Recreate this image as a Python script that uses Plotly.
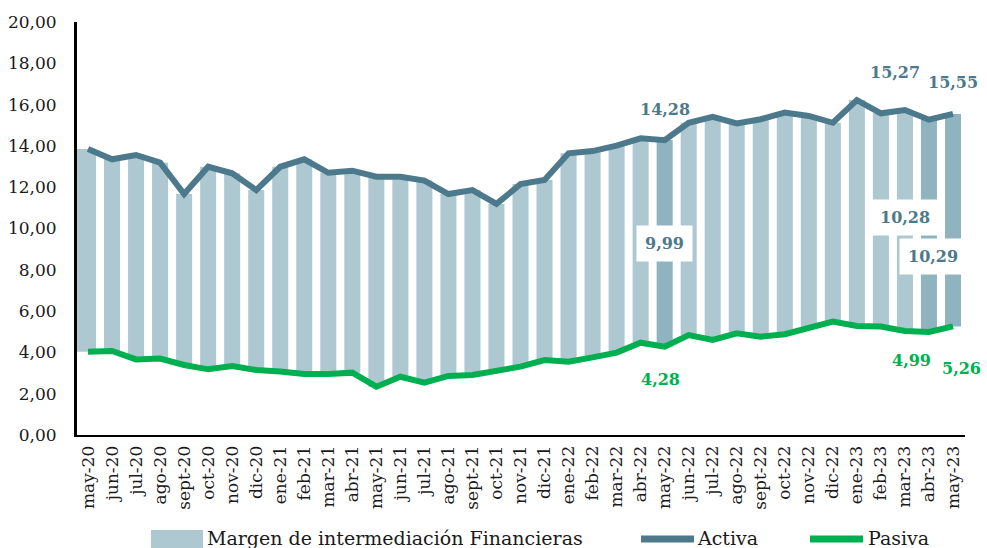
import plotly.graph_objects as go

categorias = ["may-20", "jun-20", "jul-20", "ago-20", "sept-20", "oct-20", "nov-20", "dic-20",
              "ene-21", "feb-21", "mar-21", "abr-21", "may-21", "jun-21", "jul-21", "ago-21",
              "sept-21", "oct-21", "nov-21", "dic-21", "ene-22", "feb-22", "mar-22", "abr-22",
              "may-22", "jun-22", "jul-22", "ago-22", "sept-22", "oct-22", "nov-22", "dic-22",
              "ene-23", "feb-23", "mar-23", "abr-23", "may-23"]

activa = [13.85, 13.35, 13.56, 13.19, 11.67, 12.99, 12.67, 11.86,
          12.99, 13.35, 12.70, 12.80, 12.51, 12.51, 12.32, 11.67,
          11.86, 11.19, 12.15, 12.35, 13.64, 13.75, 14.01, 14.37,
          14.28, 15.12, 15.41, 15.09, 15.29, 15.61, 15.45, 15.12,
          16.22, 15.58, 15.74, 15.27, 15.55]

pasiva = [4.03, 4.07, 3.66, 3.70, 3.39, 3.18, 3.34, 3.15,
          3.07, 2.95, 2.95, 3.02, 2.34, 2.82, 2.53, 2.86,
          2.91, 3.11, 3.31, 3.63, 3.55, 3.76, 3.99, 4.47,
          4.28, 4.84, 4.60, 4.92, 4.76, 4.88, 5.17, 5.49,
          5.28, 5.25, 5.04, 4.99, 5.26]

destacados = ["may-22", "abr-23", "may-23"]
yticks = [0, 2, 4, 6, 8, 10, 12, 14, 16, 18, 20]

margen = [round(a - p, 2) for a, p in zip(activa, pasiva)]

C_BAR = "#ADC8D0"
C_BAR_D = "#8FB4C0"
C_ACT = "#4C7A8C"
C_PAS = "#00B050"
FONT = "DejaVu Serif"

bar_colors = [C_BAR_D if c in destacados else C_BAR for c in categorias]
widths = [0.79 if i == 0 else 0.667 for i in range(len(categorias))]
offsets = [-0.455 if i == 0 else -0.3335 for i in range(len(categorias))]

fig = go.Figure()
fig.add_trace(go.Bar(x=categorias, y=margen, base=pasiva, marker=dict(color=bar_colors, line=dict(width=0)),
                     width=widths, offset=offsets, name="Margen de intermediación Financieras",
                     showlegend=False, hoverinfo="skip"))
fig.add_trace(go.Scatter(x=categorias, y=activa, mode="lines", name="Activa",
                         line=dict(color=C_ACT, width=6), showlegend=False))
fig.add_trace(go.Scatter(x=categorias, y=pasiva, mode="lines", name="Pasiva",
                         line=dict(color=C_PAS, width=6), showlegend=False))

W, H = 987, 548
L, R, T, B = 76, 22, 22, 113
PW, PH = W - L - R, H - T - B


def px(x):
    return (x - L) / PW


def py(y):
    return (H - B - y) / PH


idx = {c: i for i, c in enumerate(categorias)}
ann = []


def lab(cat, val, text, color, xs, ys, box=False):
    d = dict(x=cat, y=val, xref="x", yref="y", text=text, showarrow=False,
             xshift=xs, yshift=ys,
             font=dict(family=FONT, size=16, color=color, weight="bold"))
    if box:
        d.update(bgcolor="white", borderpad=8)
    ann.append(d)


i = idx["may-22"]
lab("may-22", activa[i], "14,28", C_ACT, 0, 31)
lab("may-22", (activa[i] + pasiva[i]) / 2, "9,99", C_ACT, 0, 0, box=True)
lab("may-22", pasiva[i], "4,28", C_PAS, -4, -33)
i = idx["abr-23"]
lab("abr-23", activa[i], "15,27", C_ACT, -34, 47)
lab("abr-23", (activa[i] + pasiva[i]) / 2, "10,28", C_ACT, -24, 8, box=True)
lab("abr-23", pasiva[i], "4,99", C_PAS, -17, -29)
i = idx["may-23"]
lab("may-23", activa[i], "15,55", C_ACT, 0, 31)
lab("may-23", (activa[i] + pasiva[i]) / 2, "10,29", C_ACT, -20, -36, box=True)
lab("may-23", pasiva[i], "5,26", C_PAS, 9, -42)

# custom legend + y axis line
shapes = [
    dict(type="line", xref="paper", yref="paper", x0=0, x1=0, y0=0, y1=1,
         line=dict(color="black", width=2), layer="above"),
    dict(type="rect", xref="paper", yref="paper", x0=px(151), x1=px(203), y0=py(548), y1=py(530),
         fillcolor=C_BAR, line=dict(width=0)),
    dict(type="line", xref="paper", yref="paper", x0=px(641), x1=px(694), y0=py(539), y1=py(539),
         line=dict(color=C_ACT, width=7)),
    dict(type="line", xref="paper", yref="paper", x0=px(810), x1=px(863), y0=py(539), y1=py(539),
         line=dict(color=C_PAS, width=7)),
]
for xx, t in [(205, "Margen de intermediación Financieras"), (695, "Activa"), (866, "Pasiva")]:
    ann.append(dict(x=px(xx), y=py(538), xref="paper", yref="paper", text=t, showarrow=False,
                    xanchor="left", yanchor="middle",
                    font=dict(family=FONT, size=19, color="#1a1a1a")))

fig.update_layout(
    width=W, height=H,
    margin=dict(l=L, r=R, t=T, b=B, pad=0),
    paper_bgcolor="white", plot_bgcolor="white",
    separators=",.",
    font=dict(family=FONT, color="#262626"),
    showlegend=False,
    annotations=ann,
    shapes=shapes,
    xaxis=dict(type="category", range=[-0.5, len(categorias) - 0.5], tickangle=-90,
               tickfont=dict(family=FONT, size=17, color="#1a1a1a"),
               showline=True, linecolor="black", linewidth=2, showgrid=False, ticks="",
               automargin=False, ticklabelstandoff=2, fixedrange=True, layer="above traces"),
    yaxis=dict(range=[0, 20], tickvals=yticks, tickformat=".2f",
               tickfont=dict(family=FONT, size=17, color="#1a1a1a"),
               showline=True, linecolor="black", linewidth=2, showgrid=False, ticks="",
               zeroline=False, automargin=False, ticklabelstandoff=14, fixedrange=True,
               layer="above traces"),
)

fig.write_html("out.html", config={"displayModeBar": False},
               post_script="document.body.style.margin='0';document.body.style.overflow='hidden';")
